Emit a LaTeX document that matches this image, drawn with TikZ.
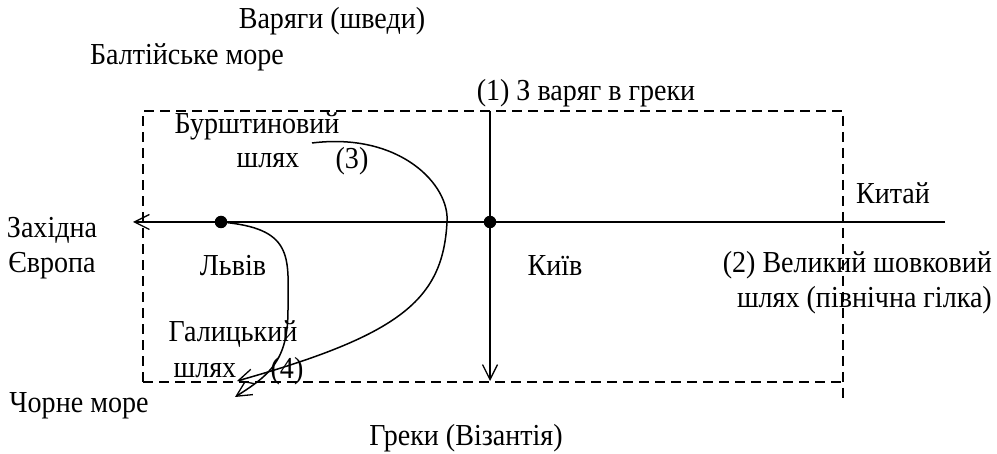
\documentclass[tikz,border=0pt]{standalone}
\usepackage{fontspec}
\setmainfont{Liberation Serif}
\newfontfamily\mapfont[FakeStretch=0.92]{Liberation Serif}
\usetikzlibrary{arrows.meta}
\tikzset{
  route/.style={line width=1.5pt,draw=black},
  tip/.style={-{Straight Barb[length=15pt,width=15pt,line width=1.3pt]}},
  border/.style={dashed,dash pattern=on 10pt off 6pt,line width=1.3pt},
  town/.style={circle,fill=black,inner sep=0pt,minimum size=12.5pt},
  lbl/.style={inner sep=0pt,font=\mapfont\fontsize{30.5pt}{35pt}\selectfont}
}

\begin{document}
\begin{tikzpicture}[x=1pt,y=-1pt]
  \useasboundingbox (0,0) rectangle (997,454);
  % frame
  \draw[border] (143,382)--(143,111)--(843,111)--(843,402);
  \draw[border] (143,382)--(843,382);
  % towns
  \node[town] (lviv) at (221,222) {};
  \node[town] (kyiv) at (490,222) {};
  \coordinate (east) at (945,222);
  \coordinate (west) at (133,222);
  \coordinate (north) at (490,111);
  \coordinate (south) at (490,381);
  \coordinate (amberA) at (312,143);
  \coordinate (amberB) at (237,381);
  \coordinate (galB) at (235,397);
  % routes
  \draw[route,tip] (east)--(west);
  \draw[route,tip] (north)--(south);
  \draw[route,tip] (amberA) .. controls (400,132) and (450,185) .. (447,222)
    .. controls (443,300) and (400,335) .. (amberB);
  \draw[route,tip] (lviv) .. controls (295,230) and (288,260) .. (288,310)
    .. controls (288,360) and (270,375) .. (galB);
  % labels
  \node[lbl] (varyagy) at (332,21) {Варяги (шведи)};
  \node[lbl] (baltic) at (187,57) {Балтійське море};
  \node[lbl] (r1) at (586,93) {(1) З варяг в греки};
  \node[lbl] (amber) at (257,126) {Бурштиновий};
  \node[lbl] (amber2) at (268,161) {шлях};
  \node[lbl] (r3) at (352,161) {(3)};
  \node[lbl] (china) at (893,193) {Китай};
  \node[lbl,align=center] (europe) at (52,248) {Західна\\Європа};
  \node[lbl] (lvivname) at (233,266) {Львів};
  \node[lbl] (kyivname) at (555,266) {Київ};
  \node[lbl,align=right,anchor=east] (silk) at (992,283) {(2) Великий шовковий\\шлях (північна гілка)};
  \node[lbl] (galician) at (233,334) {Галицький};
  \node[lbl] (gal2) at (205,371) {шлях};
  \node[lbl] (r4) at (287,371) {(4)};
  \node[lbl] (blacksea) at (79,406) {Чорне море};
  \node[lbl] (greeks) at (466,438) {Греки (Візантія)};
\end{tikzpicture}
\end{document}
